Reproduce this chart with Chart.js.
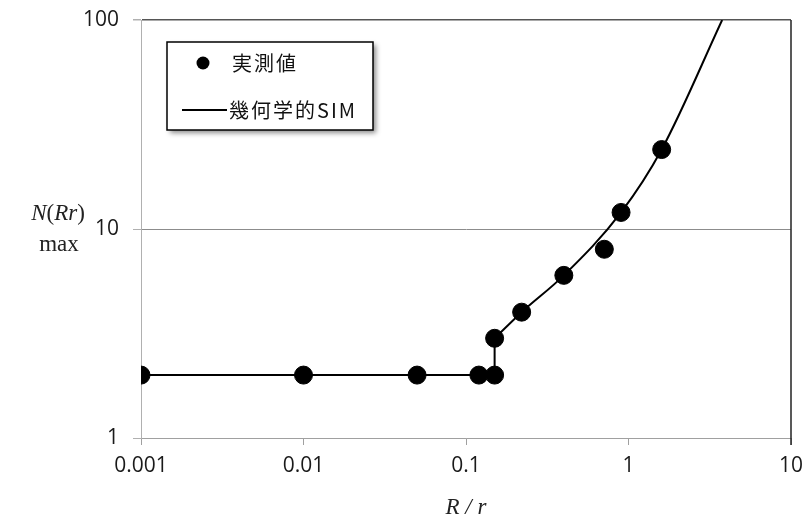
<!DOCTYPE html>
<html><head><meta charset="utf-8">
<script src="https://cdn.jsdelivr.net/npm/chart.js@4/dist/chart.umd.min.js"></script>
<style>html,body{margin:0;padding:0;background:#fff}#wrap{width:803px;height:522px}</style>
</head><body><div id="wrap"><canvas id="c" width="803" height="522"></canvas></div>
<script>
// Measured maxima N(Rr) against R / r
const measuredR = [0.001, 0.01, 0.05, 0.12, 0.15, 0.15, 0.22, 0.4, 0.71, 0.9, 1.6];
const measuredN = [2, 2, 2, 2, 2, 3, 4, 6, 8, 12, 24];
// Geometric simulation curve (flat part, step, then smooth rise)
const simR = [0.001, 0.15, 0.15, 0.22, 0.4, 0.9, 1.6, 3.77];
const simN = [2, 2, 3, 4, 6, 12, 24, 100];
const simStepEnd = 2; // index where the smooth part starts
// Axis ticks
const xTickValues = [0.001, 0.01, 0.1, 1, 10];
const xTickLabels = ['0.001', '0.01', '0.1', '1', '10'];
const yTickValues = [1, 10, 100];
const yTickLabels = ['1', '10', '100'];
const seriesNames = ['実測値', '幾何学的SIM'];

const tickFont = {family: "'Open Sans', 'Noto Sans', sans-serif", size: 21};
const simPoints = simR.map((r, i) => ({x: r, y: simN[i]}));

const overlay = {
  id: 'overlay',
  afterDraw(chart) {
    const ctx = chart.ctx;
    const a = chart.chartArea;
    ctx.save();
    // right frame
    ctx.strokeStyle = '#222';
    ctx.lineWidth = 1.5;
    ctx.beginPath();
    ctx.moveTo(a.right, a.top);
    ctx.lineTo(a.right, a.bottom + 7);
    ctx.stroke();

    // x axis title: R / r
    ctx.fillStyle = '#222';
    ctx.font = "italic 23px 'Liberation Serif', serif";
    ctx.textAlign = 'center';
    ctx.textBaseline = 'alphabetic';
    ctx.fillText('R / r', (a.left + a.right) / 2, 514);

    // y axis title: N(Rr) / max
    const parts = [['N', true], ['(', false], ['Rr', true], [')', false]];
    let total = 0;
    parts.forEach(p => {
      ctx.font = (p[1] ? 'italic ' : '') + "23px 'Liberation Serif', serif";
      total += ctx.measureText(p[0]).width;
    });
    let x = 58 - total / 2;
    ctx.textAlign = 'left';
    parts.forEach(p => {
      ctx.font = (p[1] ? 'italic ' : '') + "23px 'Liberation Serif', serif";
      ctx.fillText(p[0], x, a.top + 200);
      x += ctx.measureText(p[0]).width;
    });
    ctx.font = "23px 'Liberation Serif', serif";
    ctx.textAlign = 'center';
    ctx.fillText('max', 59, a.top + 231);

    // legend box
    const lx = a.left + 26, ly = a.top + 22, lw = 206, lh = 88;
    ctx.save();
    ctx.shadowColor = 'rgba(0,0,0,0.45)';
    ctx.shadowBlur = 5;
    ctx.shadowOffsetX = 3;
    ctx.shadowOffsetY = 3;
    ctx.fillStyle = '#fff';
    ctx.fillRect(lx, ly, lw, lh);
    ctx.restore();
    ctx.strokeStyle = '#000';
    ctx.lineWidth = 1.5;
    ctx.strokeRect(lx, ly, lw, lh);

    const ds = chart.data.datasets;
    // marker entry
    ctx.fillStyle = ds[0].backgroundColor;
    ctx.beginPath();
    ctx.arc(lx + 36, ly + 21, 6.5, 0, Math.PI * 2);
    ctx.fill();
    // line entry
    ctx.strokeStyle = ds[1].borderColor;
    ctx.lineWidth = 2;
    ctx.beginPath();
    ctx.moveTo(lx + 15, ly + 68);
    ctx.lineTo(lx + 60, ly + 68);
    ctx.stroke();

    ctx.fillStyle = '#111';
    ctx.font = "20px 'Noto Sans CJK JP', sans-serif";
    ctx.textAlign = 'left';
    ctx.textBaseline = 'middle';
    if ('letterSpacing' in ctx) ctx.letterSpacing = '2px';
    ctx.fillText(ds[0].label, lx + 65, ly + 21);
    ctx.fillText(ds[1].label, lx + 62, ly + 68);
    ctx.restore();
  }
};

const lineStyle = {
  type: 'line',
  borderColor: '#000',
  backgroundColor: '#000',
  borderWidth: 2,
  pointRadius: 0,
  fill: false,
  order: 1
};

new Chart(document.getElementById('c'), {
  type: 'scatter',
  data: {
    datasets: [
      {
        label: seriesNames[0],
        data: measuredR.map((r, i) => ({x: r, y: measuredN[i]})),
        backgroundColor: '#000',
        borderColor: '#000',
        pointRadius: 9,
        pointHoverRadius: 9,
        order: 0
      },
      Object.assign({}, lineStyle, {
        label: seriesNames[1],
        data: simPoints.slice(simStepEnd),
        cubicInterpolationMode: 'monotone'
      }),
      Object.assign({}, lineStyle, {
        label: seriesNames[1],
        data: simPoints.slice(0, simStepEnd + 1),
        tension: 0
      })
    ]
  },
  options: {
    responsive: false,
    animation: false,
    devicePixelRatio: 1,
    layout: {padding: {left: 0, right: 12, top: 20, bottom: 0}},
    plugins: {legend: {display: false}, tooltip: {enabled: false}},
    scales: {
      x: {
        type: 'logarithmic',
        min: 0.001,
        max: 10,
        afterBuildTicks: s => { s.ticks = xTickValues.map(v => ({value: v})); },
        afterFit: s => { s.height = 84; s.paddingLeft = 0; s.paddingRight = 0; },
        ticks: {
          font: tickFont,
          color: '#1a1a1a',
          padding: 8,
          maxRotation: 0,
          autoSkip: false,
          callback: v => xTickLabels[xTickValues.indexOf(v)] ?? ''
        },
        grid: {drawOnChartArea: false, drawTicks: true, tickLength: 7, color: '#a0a0a0'},
        border: {color: '#a0a0a0', width: 1}
      },
      y: {
        type: 'logarithmic',
        min: 1,
        max: 100,
        afterBuildTicks: s => { s.ticks = yTickValues.map(v => ({value: v})); },
        afterFit: s => { s.width = 141; s.paddingTop = 0; s.paddingBottom = 0; },
        ticks: {
          font: tickFont,
          color: '#1a1a1a',
          padding: 14,
          autoSkip: false,
          callback: v => yTickLabels[yTickValues.indexOf(v)] ?? ''
        },
        grid: {
          drawTicks: true,
          tickLength: 8,
          color: c => c.tick && c.tick.value === 100 ? '#555' : (c.tick && c.tick.value === 10 ? '#8c8c8c' : '#a6a6a6'),
          tickColor: '#b0b0b0',
          lineWidth: c => c.tick && c.tick.value === 100 ? 1.5 : 1
        },
        border: {color: '#b0b0b0', width: 1}
      }
    }
  },
  plugins: [overlay]
});
</script>
</body></html>
